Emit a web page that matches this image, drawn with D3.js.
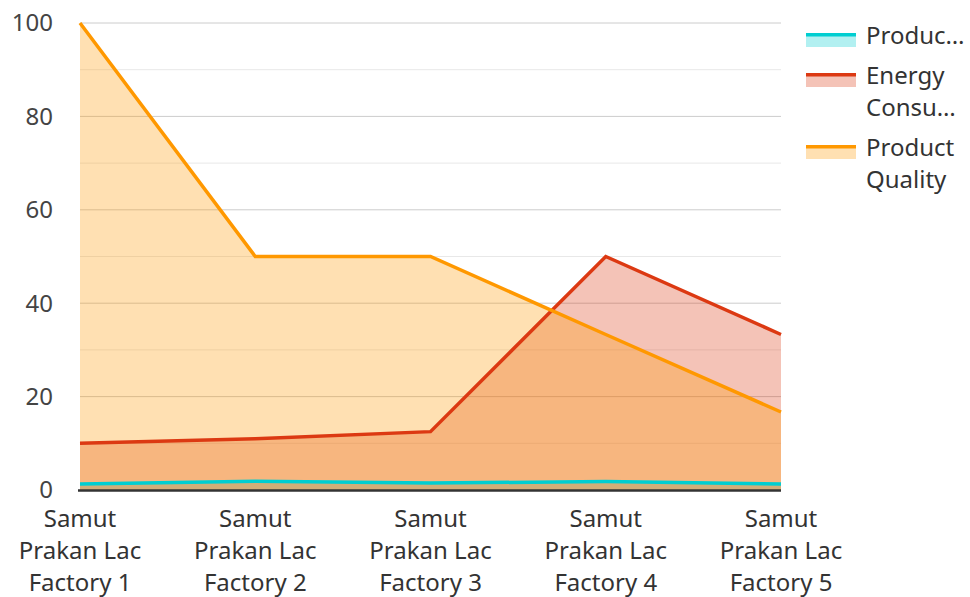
<!DOCTYPE html>
<html>
<head>
<meta charset="utf-8">
<script src="https://cdn.jsdelivr.net/npm/d3@7"></script>
<style>
  body { margin: 0; background: #fff; }
  svg { display: block; font-family: "Noto Sans", "Open Sans", sans-serif; }
</style>
</head>
<body>
<div id="chart"></div>
<script>
// data
const factories = ["Samut Prakan Lac Factory 1", "Samut Prakan Lac Factory 2", "Samut Prakan Lac Factory 3", "Samut Prakan Lac Factory 4", "Samut Prakan Lac Factory 5"];
const factoryLines = [
  ["Samut", "Prakan Lac", "Factory 1"],
  ["Samut", "Prakan Lac", "Factory 2"],
  ["Samut", "Prakan Lac", "Factory 3"],
  ["Samut", "Prakan Lac", "Factory 4"],
  ["Samut", "Prakan Lac", "Factory 5"]
];
const production = [1.3, 1.9, 1.5, 1.8, 1.3];
const energy = [10, 11, 12.5, 50, 33.3];
const quality = [100, 50, 50, 33.3, 16.7];
const seriesNames = ["Production", "Energy Consumption", "Product Quality"];
const legendLines = [["Produc…"], ["Energy", "Consu…"], ["Product", "Quality"]];
const seriesColors = ["#00CED1", "#DC3912", "#FF9800"];
const yTicks = [0, 20, 40, 60, 80, 100];

const width = 970, height = 597;
const margin = {left: 80, right: 189, top: 23, bottom: 107};

const svg = d3.select("#chart").append("svg")
  .attr("width", width)
  .attr("height", height);

const x = d3.scalePoint()
  .domain(factories)
  .range([margin.left, width - margin.right]);

const y = d3.scaleLinear()
  .domain([0, 100])
  .range([height - margin.bottom, margin.top]);

// grid lines, minor at 10s and major at 20s
svg.append("g")
  .selectAll("line")
  .data(d3.range(10, 101, 10))
  .join("line")
  .attr("x1", margin.left)
  .attr("x2", width - margin.right)
  .attr("y1", d => y(d))
  .attr("y2", d => y(d))
  .attr("stroke", d => d % 20 === 0 ? "#cccccc" : "#e8e8e8")
  .attr("stroke-width", 1);

const series = [production, energy, quality];

const area = d3.area()
  .x((d, i) => x(factories[i]))
  .y0(y(0))
  .y1(d => y(d));

const line = d3.line()
  .x((d, i) => x(factories[i]))
  .y(d => y(d));

// all areas first, lines on top
svg.append("g")
  .selectAll("path")
  .data(series)
  .join("path")
  .attr("d", d => area(d))
  .attr("fill", (d, i) => seriesColors[i])
  .attr("fill-opacity", 0.3);

// baseline
svg.append("line")
  .attr("x1", margin.left - 2)
  .attr("x2", width - margin.right)
  .attr("y1", y(0) + 0.5)
  .attr("y2", y(0) + 0.5)
  .attr("stroke", "#333")
  .attr("stroke-width", 2.5);

svg.append("g")
  .selectAll("path")
  .data(series)
  .join("path")
  .attr("d", d => line(d))
  .attr("fill", "none")
  .attr("stroke", (d, i) => seriesColors[i])
  .attr("stroke-width", 3.5)
  .attr("stroke-linejoin", "miter");

// y axis labels
svg.append("g")
  .selectAll("text")
  .data(yTicks)
  .join("text")
  .attr("x", 53)
  .attr("y", d => y(d))
  .attr("dy", "0.35em")
  .attr("text-anchor", "end")
  .attr("fill", "#444")
  .style("font-size", "24px")
  .text(d => d);

// x axis labels
const xl = svg.append("g")
  .selectAll("text")
  .data(factories)
  .join("text")
  .attr("text-anchor", "middle")
  .attr("fill", "#333")
  .style("font-size", "24px");

xl.selectAll("tspan")
  .data((d, i) => factoryLines[i].map(t => ({t, cx: x(d)})))
  .join("tspan")
  .attr("x", d => d.cx)
  .attr("y", (d, j) => 527 + j * 32)
  .text(d => d.t);

// legend
const legendTop = [33, 73, 145];
const leg = svg.append("g")
  .selectAll("g")
  .data(seriesNames)
  .join("g")
  .attr("transform", (d, i) => `translate(806,${legendTop[i]})`);

leg.append("rect")
  .attr("width", 50)
  .attr("height", 14)
  .attr("fill", (d, i) => seriesColors[i])
  .attr("fill-opacity", 0.3);

leg.append("rect")
  .attr("width", 50)
  .attr("height", 3.5)
  .attr("fill", (d, i) => seriesColors[i]);

leg.append("text")
  .attr("fill", "#333")
  .style("font-size", "24px")
  .selectAll("tspan")
  .data((d, i) => legendLines[i])
  .join("tspan")
  .attr("x", 60)
  .attr("y", (d, j) => 11 + j * 32)
  .text(d => d);
</script>
</body>
</html>
